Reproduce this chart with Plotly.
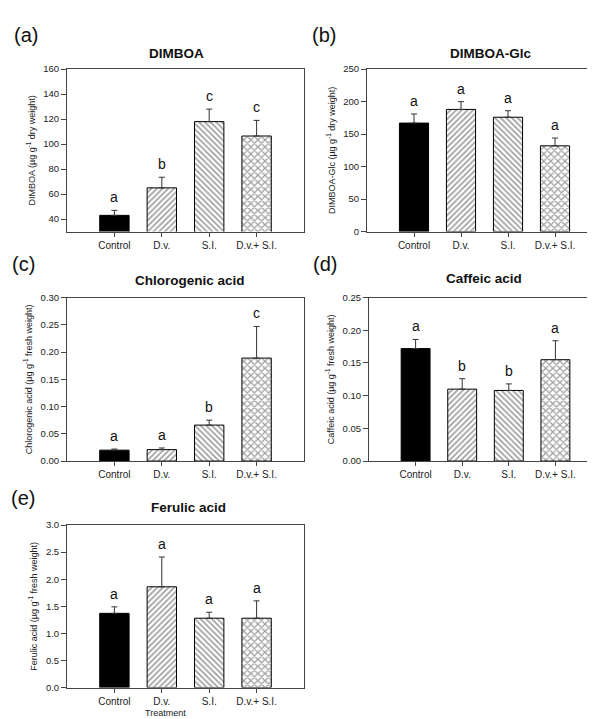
import plotly.graph_objects as go

W, H = 595, 719

categories = ["Control", "D.v.", "S.I.", "D.v.+ S.I."]

# Panel data (means, upper error, significance letters)
dimboa_mean = [43, 65, 118, 106.5]
dimboa_err = [4, 8.5, 10, 12.5]
dimboa_letters = ["a", "b", "c", "c"]

dimboaglc_mean = [167, 188, 176, 132]
dimboaglc_err = [14, 12, 10, 12]
dimboaglc_letters = ["a", "a", "a", "a"]

chloro_mean = [0.020, 0.021, 0.066, 0.189]
chloro_err = [0.002, 0.003, 0.009, 0.058]
chloro_letters = ["a", "a", "b", "c"]

caffeic_mean = [0.172, 0.110, 0.108, 0.155]
caffeic_err = [0.014, 0.016, 0.010, 0.029]
caffeic_letters = ["a", "b", "b", "a"]

ferulic_mean = [1.37, 1.86, 1.28, 1.28]
ferulic_err = [0.12, 0.55, 0.11, 0.32]
ferulic_letters = ["a", "a", "a", "a"]

dimboa_ticks = [40, 60, 80, 100, 120, 140, 160]
dimboaglc_ticks = [0, 50, 100, 150, 200, 250]
chloro_ticks = [0.00, 0.05, 0.10, 0.15, 0.20, 0.25, 0.30]
caffeic_ticks = [0.00, 0.05, 0.10, 0.15, 0.20, 0.25]
ferulic_ticks = [0.0, 0.5, 1.0, 1.5, 2.0, 2.5, 3.0]

FONT = "Liberation Sans, Arial, sans-serif"

panels = [
    dict(mean=dimboa_mean, err=dimboa_err, letters=dimboa_letters, ticks=dimboa_ticks,
         yrange=[30, 160], fmt="d", ytitle="DIMBOA (µg g<sup>-1</sup> dry weight)",
         title="DIMBOA", label="(a)", px=(59, 296), py=(56, 221),
         title_xy=(168, 40), label_xy=(18, 21), xtitle=None),
    dict(mean=dimboaglc_mean, err=dimboaglc_err, letters=dimboaglc_letters, ticks=dimboaglc_ticks,
         yrange=[0, 250], fmt="d", ytitle="DIMBOA-Glc (µg g<sup>-1</sup> dry weight)",
         title="DIMBOA-Glc", label="(b)", px=(359, 594), py=(56, 221),
         title_xy=(482, 40), label_xy=(316, 21), xtitle=None),
    dict(mean=chloro_mean, err=chloro_err, letters=chloro_letters, ticks=chloro_ticks,
         yrange=[0, 0.30], fmt=".2f", ytitle="Chlorogenic acid (µg g<sup>-1</sup> fresh weight)",
         title="Chlorogenic acid", label="(c)", px=(59, 296), py=(288, 454),
         title_xy=(182, 271), label_xy=(15, 254), xtitle=None),
    dict(mean=caffeic_mean, err=caffeic_err, letters=caffeic_letters, ticks=caffeic_ticks,
         yrange=[0, 0.25], fmt=".2f", ytitle="Caffeic acid (µg g<sup>-1</sup> fresh weight)",
         title="Caffeic acid", label="(d)", px=(361, 594), py=(288, 454),
         title_xy=(476, 269), label_xy=(317, 254), xtitle=None),
    dict(mean=ferulic_mean, err=ferulic_err, letters=ferulic_letters, ticks=ferulic_ticks,
         yrange=[0, 3.0], fmt=".1f", ytitle="Ferulic acid (µg g<sup>-1</sup> fresh weight)",
         title="Ferulic acid", label="(e)", px=(59, 296), py=(519, 684),
         title_xy=(180, 501), label_xy=(15, 492), xtitle="Treatment"),
]

fig = go.Figure()
annotations = []
layout = {}

for i, p in enumerate(panels):
    n = i + 1
    xa = "x" if n == 1 else f"x{n}"
    ya = "y" if n == 1 else f"y{n}"
    xkey = "xaxis" if n == 1 else f"xaxis{n}"
    ykey = "yaxis" if n == 1 else f"yaxis{n}"

    fig.add_trace(go.Bar(
        x=categories, y=p["mean"], xaxis=xa, yaxis=ya, width=0.62,
        marker=dict(
            color=["black", "white", "white", "white"],
            line=dict(color="black", width=1),
            pattern=dict(shape=["", "/", "\\", "x"], fgcolor="black", bgcolor="white",
                         size=[4, 4, 4, 5], solidity=0.45),
        ),
        error_y=dict(type="data", array=p["err"], arrayminus=[0] * 4, symmetric=False,
                     color="#333333", thickness=1, width=3),
        showlegend=False, hoverinfo="skip",
    ))

    x0, x1 = p["px"]
    y0, y1 = p["py"]
    layout[xkey] = dict(
        domain=[x0 / W, x1 / W], anchor=ya, range=[-1, 4], type="category",
        showline=True, linecolor="#444444", linewidth=1, mirror=True,
        ticks="outside", ticklen=4, tickcolor="#444444", showgrid=False, zeroline=False,
        tickfont=dict(family=FONT, size=10, color="#222222"),
        categoryorder="array", categoryarray=categories, fixedrange=True,
    )
    layout[ykey] = dict(
        domain=[1 - y1 / H, 1 - y0 / H], anchor=xa, range=p["yrange"],
        tickvals=p["ticks"], tickformat=p["fmt"],
        showline=True, linecolor="#444444", linewidth=1, mirror=True,
        ticks="outside", ticklen=5, tickcolor="#444444", showgrid=False, zeroline=False,
        tickfont=dict(family=FONT, size=9.5, color="#222222"),
        title=dict(text=p["ytitle"], font=dict(family=FONT, size=9, color="#222222"), standoff=6),
        fixedrange=True,
    )

    # significance letters
    for c, m, e, L in zip(categories, p["mean"], p["err"], p["letters"]):
        annotations.append(dict(
            x=c, y=m + e, xref=xa, yref=ya, text=L, showarrow=False,
            yanchor="bottom", yshift=3,
            font=dict(family=FONT, size=14, color="#111111"),
        ))

    tx, ty = p["title_xy"]
    annotations.append(dict(
        x=tx / W, y=1 - ty / H, xref="paper", yref="paper", text=f"<b>{p['title']}</b>",
        showarrow=False, xanchor="center", yanchor="middle",
        font=dict(family=FONT, size=13.5, color="#111111"),
    ))
    lx, ly = p["label_xy"]
    annotations.append(dict(
        x=lx / W, y=1 - ly / H, xref="paper", yref="paper", text=p["label"],
        showarrow=False, xanchor="center", yanchor="middle",
        font=dict(family=FONT, size=20, color="#111111"),
    ))
    if p["xtitle"]:
        annotations.append(dict(
            x=157 / W, y=1 - 710 / H, xref="paper", yref="paper", text=p["xtitle"],
            showarrow=False, xanchor="center", yanchor="middle",
            font=dict(family=FONT, size=9, color="#222222"),
        ))

fig.update_layout(
    width=W, height=H,
    margin=dict(l=0, r=0, t=0, b=0),
    paper_bgcolor="white", plot_bgcolor="white",
    annotations=annotations,
    bargap=0.38,
    **layout,
)

fig.write_html("out.html", config={"displayModeBar": False})
